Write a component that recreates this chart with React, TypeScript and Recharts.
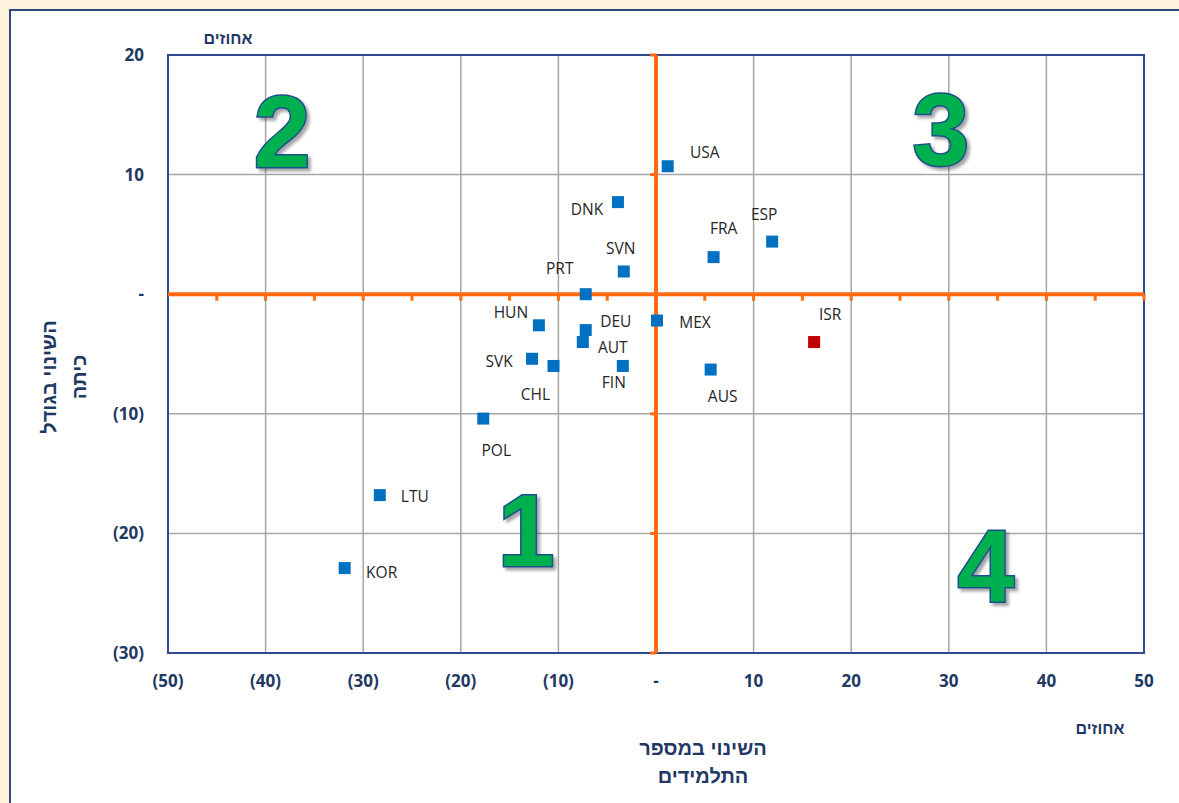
import React from 'react';
import {
  ScatterChart,
  Scatter,
  XAxis,
  YAxis,
  CartesianGrid,
  ReferenceLine,
  ReferenceArea,
  ReferenceDot,
} from 'recharts';

// change in number of students (x) vs change in class size (y), percent
const countries = ['USA', 'DNK', 'SVN', 'PRT', 'FRA', 'ESP', 'HUN', 'DEU', 'AUT', 'MEX', 'SVK', 'CHL', 'FIN', 'AUS', 'POL', 'LTU', 'KOR'];
const studentChange = [1.2, -3.9, -3.3, -7.2, 5.9, 11.9, -12.0, -7.2, -7.5, 0.1, -12.7, -10.5, -3.4, 5.6, -17.7, -28.3, -31.9];
const classSizeChange = [10.7, 7.7, 1.9, 0.0, 3.1, 4.4, -2.6, -3.0, -4.0, -2.2, -5.4, -6.0, -6.0, -6.3, -10.4, -16.8, -22.9];

const israel = ['ISR'];
const israelStudentChange = [16.2];
const israelClassSizeChange = [-4.0];

const xTicks = [-50, -40, -30, -20, -10, 0, 10, 20, 30, 40, 50];
const yTicks = [-30, -20, -10, 0, 10, 20];

const quadrants = ['1', '2', '3', '4'];
const quadrantX = [-13.3, -38.3, 29.2, 33.8];
const quadrantY = [-19.6, 13.7, 13.9, -22.6];

const oecdData = countries.map((name, i) => ({ name, x: studentChange[i], y: classSizeChange[i] }));
const israelData = israel.map((name, i) => ({ name, x: israelStudentChange[i], y: israelClassSizeChange[i] }));

// label placement around each marker (px)
const LABEL_OFFSET: Record<string, [number, number]> = {
  USA: [37, -14], DNK: [-31, 7], SVN: [-3, -23], PRT: [-26, -26], FRA: [10, -29],
  ESP: [-8, -28], HUN: [-28, -13], DEU: [30, -9], AUT: [30, 5], MEX: [38, 1],
  SVK: [-33, 2], CHL: [-18, 28], FIN: [-9, 16], AUS: [12, 26], ISR: [16, -28],
  POL: [13, 31], LTU: [35, 1], KOR: [37, 4],
};

const NAVY = '#1F3864';
const ORANGE = '#FF6A10';
const HEB = '"Liberation Sans", Arial, sans-serif';
const LATIN = '"Open Sans", "Liberation Sans", sans-serif';

const fmt = (v: number) => (v === 0 ? '-' : v < 0 ? `(${Math.abs(v)})` : `${v}`);

const markerShape = (color: string) => (props: any) => {
  const { cx, cy, payload } = props;
  const [dx, dy] = LABEL_OFFSET[payload.name] || [20, 0];
  return (
    <g>
      <rect x={cx - 6} y={cy - 6} width={12} height={12} fill={color} />
      <text
        x={cx + dx}
        y={cy + dy}
        textAnchor="middle"
        dominantBaseline="central"
        fontFamily={LATIN}
        fontSize={15.5}
        fill="#262626"
      >
        {payload.name}
      </text>
    </g>
  );
};

const quadrantShape = (label: string) => (props: any) => {
  const { cx, cy } = props;
  const id = `qshadow${label}`;
  return (
    <g>
      <defs>
        <filter id={id} x="-30%" y="-30%" width="160%" height="160%">
          <feDropShadow dx={3} dy={3} stdDeviation={1.5} floodColor="#000" floodOpacity={0.35} />
        </filter>
      </defs>
      <text
        x={cx}
        y={cy + 37}
        textAnchor="middle"
        fontFamily={HEB}
        fontWeight="bold"
        fontSize={102}
        fill="#00B050"
        stroke="#1F4E8C"
        strokeWidth={3}
        paintOrder="stroke"
        filter={`url(#${id})`}
      >
        {label}
      </text>
    </g>
  );
};

const hTickX = [-45, -40, -35, -30, -25, -20, -15, -10, -5, 5, 10, 15, 20, 25, 30, 35, 40, 45, 50];
const vTickY = [-30, -20, -10, 10, 20];

export default function App() {
  return (
    <div style={{ position: 'absolute', left: 0, top: 0, width: 1179, height: 803, background: '#FEF2DC', overflow: 'hidden' }}>
      <div
        style={{
          position: 'absolute',
          left: 9,
          top: 9,
          width: 1180,
          height: 800,
          background: '#fff',
          border: '2px solid #2E4A7D',
        }}
      />
      <div style={{ position: 'absolute', left: 0, top: 0 }}>
        <ScatterChart width={1179} height={803} margin={{ top: 55, right: 35, bottom: 120, left: 0 }}>
          <CartesianGrid stroke="#A6A6A6" strokeWidth={1.5} horizontalValues={yTicks} verticalValues={xTicks} />
          <XAxis
            type="number"
            dataKey="x"
            domain={[-50, 50]}
            ticks={xTicks}
            tickFormatter={fmt}
            axisLine={false}
            tickLine={false}
            tickSize={20}
            height={30}
            tick={{ fill: NAVY, fontFamily: LATIN, fontWeight: 700, fontSize: 17 }}
          />
          <YAxis
            type="number"
            dataKey="y"
            domain={[-30, 20]}
            ticks={yTicks}
            tickFormatter={fmt}
            axisLine={false}
            tickLine={false}
            tickSize={22}
            width={168}
            tick={{ fill: NAVY, fontFamily: LATIN, fontWeight: 700, fontSize: 17 }}
          />
          <ReferenceArea x1={-50} x2={50} y1={-30} y2={20} fill="none" stroke="#2E4A8C" strokeWidth={2} />
          {hTickX.map((t) => (
            <ReferenceLine key={`h${t}`} segment={[{ x: t, y: 0 }, { x: t, y: -0.55 }]} stroke={ORANGE} strokeWidth={3} />
          ))}
          {vTickY.map((t) => (
            <ReferenceLine key={`v${t}`} segment={[{ x: 0, y: t }, { x: -0.6, y: t }]} stroke={ORANGE} strokeWidth={3} />
          ))}
          <ReferenceLine y={0} stroke={ORANGE} strokeWidth={4} />
          <ReferenceLine x={0} stroke={ORANGE} strokeWidth={4} />
          {quadrants.map((q, i) => (
            <ReferenceDot key={q} x={quadrantX[i]} y={quadrantY[i]} r={0} shape={quadrantShape(q)} />
          ))}
          <Scatter data={oecdData} shape={markerShape('#0070C0')} isAnimationActive={false} />
          <Scatter data={israelData} shape={markerShape('#C00000')} isAnimationActive={false} />
        </ScatterChart>
      </div>
      <svg width={1179} height={803} style={{ position: 'absolute', left: 0, top: 0, pointerEvents: 'none' }}>
        <g fontFamily={HEB} fontWeight="bold" fill={NAVY}>
          <text x={228} y={38} textAnchor="middle" dominantBaseline="central" fontSize={16}>אחוזים</text>
          <text x={1100} y={728} textAnchor="middle" dominantBaseline="central" fontSize={16}>אחוזים</text>
          <text x={703} y={748} textAnchor="middle" dominantBaseline="central" fontSize={20}>השינוי במספר</text>
          <text x={703} y={776} textAnchor="middle" dominantBaseline="central" fontSize={20}>התלמידים</text>
          <text transform="translate(49,377) rotate(-90)" textAnchor="middle" dominantBaseline="central" fontSize={20}>השינוי בגודל</text>
          <text transform="translate(79,377) rotate(-90)" textAnchor="middle" dominantBaseline="central" fontSize={20}>כיתה</text>
        </g>
      </svg>
    </div>
  );
}
